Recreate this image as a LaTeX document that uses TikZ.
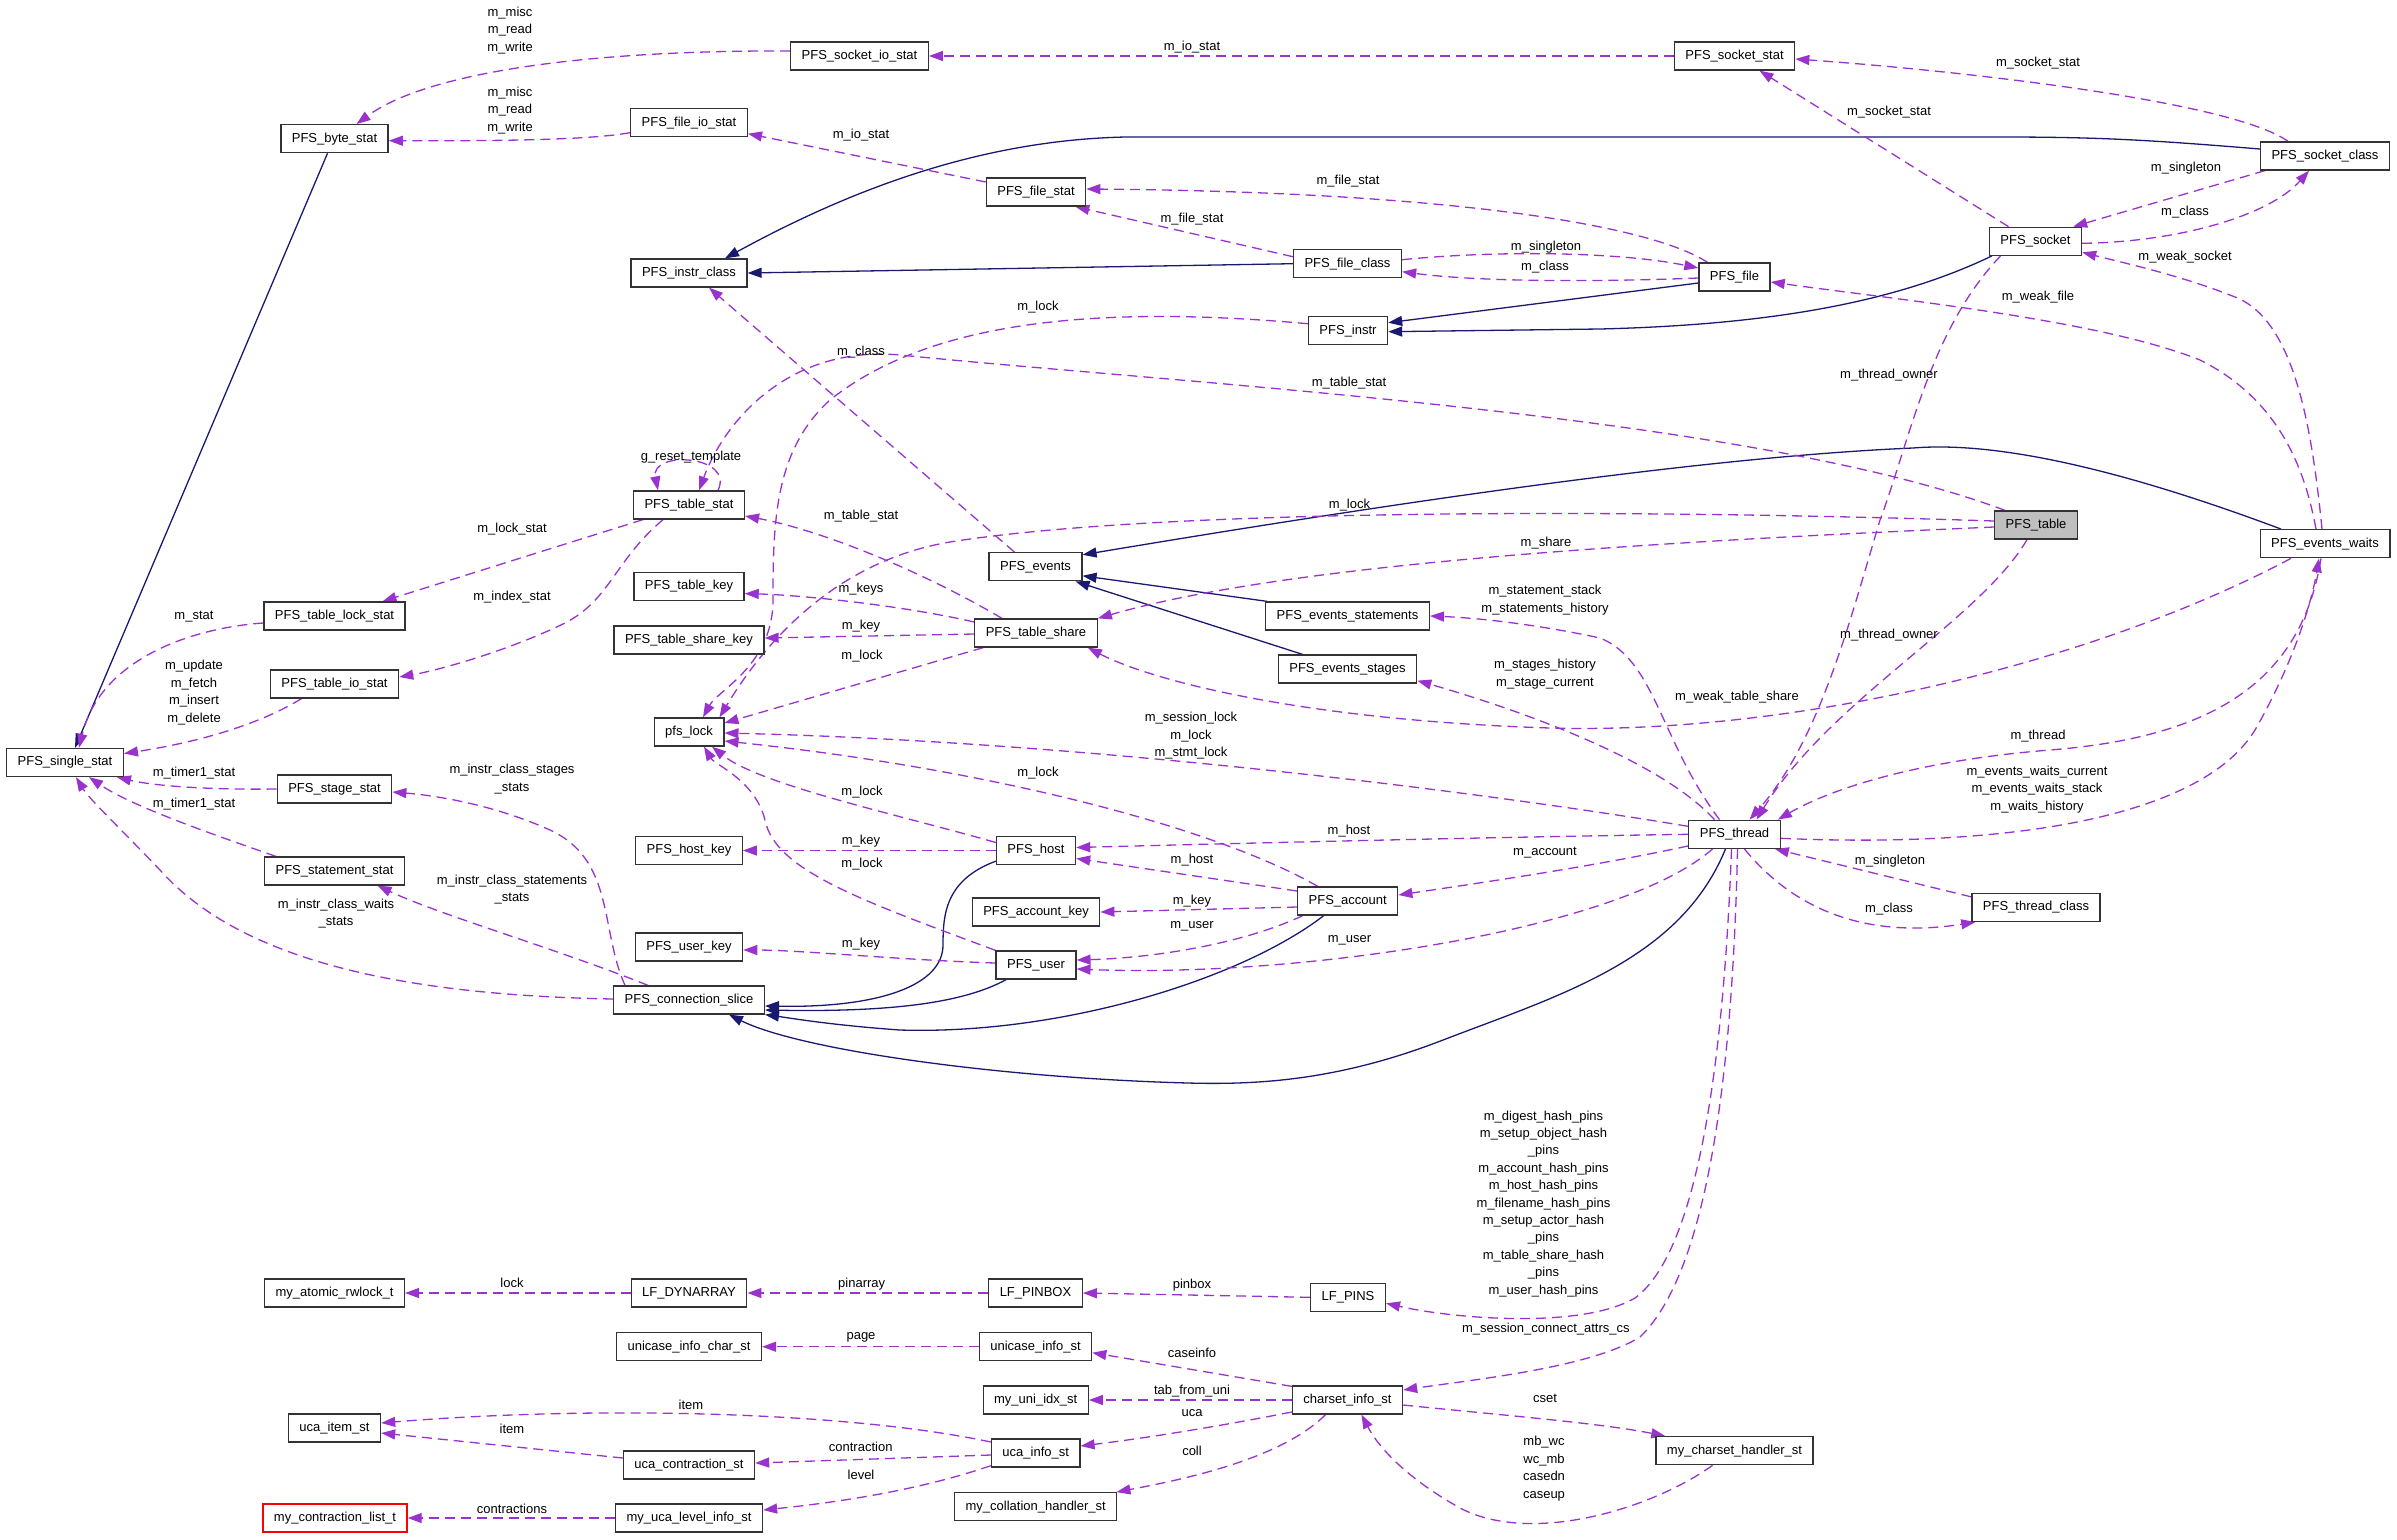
\documentclass[tikz,border=0pt]{standalone}
\usepackage{fontspec}
\setmainfont{Liberation Sans}
\usetikzlibrary{arrows.meta}
\definecolor{memc}{HTML}{9A32CD}
\definecolor{inhc}{HTML}{191970}
\newcommand{\nfont}{\fontsize{13}{17.4}\selectfont}
\pgfdeclarelayer{edges}
\pgfsetlayers{edges,main}
\tikzset{
  box/.style={draw=black!80, line width=1.3pt, fill=white, minimum height=28pt, inner xsep=11pt, inner ysep=0pt, font=\nfont},
  mem/.style={draw=memc, line width=1.3pt, dash pattern=on 10pt off 6pt, -{Triangle[length=14pt,width=10pt]}},
  inh/.style={draw=inhc, line width=1.3pt, -{Triangle[length=14pt,width=10pt]}},
  lab/.style={font=\nfont, inner sep=0pt, align=center, text=black}
}
\begin{document}
\begin{tikzpicture}[x=1pt,y=-1pt]
\useasboundingbox (0,0) rectangle (2397,1539);
% ---------- nodes ----------
\node[box] (bytestat) at (334.5,138.7) {PFS\_byte\_stat};
\node[box] (fileiostat) at (689,122.7) {PFS\_file\_io\_stat};
\node[box] (socketiostat) at (859.5,56) {PFS\_socket\_io\_stat};
\node[box] (socketstat) at (1734.5,56) {PFS\_socket\_stat};
\node[box] (filestat) at (1036,192) {PFS\_file\_stat};
\node[box] (socketclass) at (2325,156) {PFS\_socket\_class};
\node[box] (instrclass) at (689,273) {PFS\_instr\_class};
\node[box] (fileclass) at (1347.5,263.7) {PFS\_file\_class};
\node[box] (socket) at (2035.5,241.3) {PFS\_socket};
\node[box] (file) at (1734.5,277) {PFS\_file};
\node[box] (instr) at (1348,330.7) {PFS\_instr};
\node[box] (tablestat) at (689,505) {PFS\_table\_stat};
\node[box, fill=black!25] (table) at (2036,525) {PFS\_table};
\node[box] (eventswaits) at (2325,543.7) {PFS\_events\_waits};
\node[box] (events) at (1035.5,566.8) {PFS\_events};
\node[box] (tablekey) at (689,586.6) {PFS\_table\_key};
\node[box] (tablelockstat) at (334.5,616) {PFS\_table\_lock\_stat};
\node[box] (eventsstatements) at (1347.5,616) {PFS\_events\_statements};
\node[box] (tablesharekey) at (689,640) {PFS\_table\_share\_key};
\node[box] (tableshare) at (1036,633) {PFS\_table\_share};
\node[box] (eventsstages) at (1347.5,669) {PFS\_events\_stages};
\node[box] (tableiostat) at (334.5,684) {PFS\_table\_io\_stat};
\node[box] (pfslock) at (689,732) {pfs\_lock};
\node[box] (singlestat) at (65,762.5) {PFS\_single\_stat};
\node[box] (stagestat) at (334.5,789) {PFS\_stage\_stat};
\node[box] (thread) at (1734.5,834.3) {PFS\_thread};
\node[box] (hostkey) at (689,850.5) {PFS\_host\_key};
\node[box] (host) at (1036,850.5) {PFS\_host};
\node[box] (statementstat) at (334.5,871) {PFS\_statement\_stat};
\node[box] (account) at (1347.7,901) {PFS\_account};
\node[box] (accountkey) at (1036,912) {PFS\_account\_key};
\node[box] (threadclass) at (2036,907.5) {PFS\_thread\_class};
\node[box] (userkey) at (689,947) {PFS\_user\_key};
\node[box] (user) at (1036,965) {PFS\_user};
\node[box] (connslice) at (689,1000) {PFS\_connection\_slice};
\node[box] (atomicrwlock) at (334.5,1293) {my\_atomic\_rwlock\_t};
\node[box] (dynarray) at (689,1293) {LF\_DYNARRAY};
\node[box] (pinbox) at (1035.5,1293) {LF\_PINBOX};
\node[box] (pins) at (1348,1297.3) {LF\_PINS};
\node[box] (unicasecharst) at (689,1346.7) {unicase\_info\_char\_st};
\node[box] (unicaseinfo) at (1035.5,1346.7) {unicase\_info\_st};
\node[box] (uniidx) at (1035.7,1400) {my\_uni\_idx\_st};
\node[box] (charsetinfo) at (1347.5,1400) {charset\_info\_st};
\node[box] (ucaitem) at (334.5,1428) {uca\_item\_st};
\node[box] (ucainfo) at (1035.7,1453) {uca\_info\_st};
\node[box] (ucacontraction) at (689,1465) {uca\_contraction\_st};
\node[box] (charsethandler) at (1734.5,1450.7) {my\_charset\_handler\_st};
\node[box] (collationhandler) at (1035.7,1506.7) {my\_collation\_handler\_st};
\node[box, draw=red] (contractionlist) at (335,1518) {my\_contraction\_list\_t};
\node[box] (ucalevel) at (689,1518) {my\_uca\_level\_info\_st};
% ---------- edges ----------
\begin{pgfonlayer}{edges}
% inheritance
\draw[inh] ([xshift=-7pt]bytestat.south) -- ([xshift=10pt]singlestat.north);
\draw[inh] ([yshift=7pt]socketclass.west) .. controls (2150,140) and (2100,137) .. (2000,137) -- (1126,137) .. controls (980,140) and (850,190) .. ([xshift=36pt]instrclass.north);
\draw[inh] (fileclass.west) -- (instrclass.east);
\draw[inh] ([yshift=-6pt]file.west) -- ([yshift=8pt]instr.east);
\draw[inh] ([xshift=3pt]socket.south west) .. controls (1890,305) and (1760,325) .. (1600,329) -- ([yshift=-1pt]instr.east);
\draw[inh] ([xshift=-44pt]eventswaits.north) .. controls (2150,480) and (2010,440) .. (1913,448) .. controls (1750,455) and (1500,485) .. ([yshift=12pt]events.east);
\draw[inh] ([xshift=2pt]eventsstatements.north west) -- ([yshift=-9pt]events.east);
\draw[inh] ([xshift=-45pt]eventsstages.north) -- ([xshift=-7pt]events.south east);
\draw[inh] ([yshift=4pt]host.south west) .. controls (945,880) and (943,915) .. (943,945) .. controls (943,985) and (880,1008) .. ([yshift=-6pt]connslice.east);
\draw[inh] ([xshift=-30pt]user.south) .. controls (960,1005) and (880,1012) .. ([yshift=-10pt]connslice.east);
\draw[inh] ([xshift=-24pt]account.south) .. controls (1240,980) and (1060,1035) .. (900,1030) .. controls (830,1025) and (790,1018) .. (connslice.south east);
\draw[inh] ([xshift=-9pt]thread.south) .. controls (1680,960) and (1560,995) .. (1443,1040) .. controls (1340,1080) and (1260,1085) .. (1188,1083) .. controls (1000,1078) and (800,1050) .. ([xshift=40pt]connslice.south);
% members
\draw[mem] ([yshift=5pt]socketiostat.west) .. controls (600,50) and (430,70) .. ([xshift=22pt]bytestat.north);
\draw[mem] ([yshift=-10pt]fileiostat.west) .. controls (590,140) and (500,141) .. ([yshift=-2pt]bytestat.east);
\draw[mem] (socketstat.west) -- (socketiostat.east);
\draw[mem] ([yshift=10pt]filestat.west) -- ([yshift=-11pt]fileiostat.east);
\draw[mem] ([xshift=-37pt]socketclass.north) .. controls (2230,100) and (1950,70) .. ([yshift=-3pt]socketstat.east);
\draw[mem] ([xshift=-27pt]socket.north) -- ([xshift=25pt]socketstat.south);
\draw[mem] ([xshift=5pt]socketclass.south west) -- ([xshift=-9pt]socket.north east);
\draw[mem] ([yshift=-2pt]socket.east) .. controls (2180,242) and (2270,215) .. ([xshift=-16pt]socketclass.south);
\draw[mem] ([xshift=-3pt]eventswaits.north) .. controls (2312,430) and (2295,320) .. (2235,297) .. controls (2180,275) and (2120,262) .. ([yshift=-11pt]socket.east);
\draw[mem] ([xshift=-9pt]eventswaits.north) .. controls (2305,470) and (2280,400) .. (2200,360) .. controls (2100,320) and (1900,300) .. ([yshift=-5pt]file.east);
\draw[mem] ([xshift=-27pt]file.north) .. controls (1650,225) and (1450,192) .. ([yshift=3pt]filestat.east);
\draw[mem] ([yshift=7pt]fileclass.west) -- ([xshift=-11pt]filestat.south east);
\draw[mem] ([yshift=4pt]fileclass.east) .. controls (1500,250) and (1620,252) .. ([yshift=9pt]file.west);
\draw[mem] ([yshift=-1pt]file.west) .. controls (1600,282) and (1480,282) .. ([yshift=-8pt]fileclass.east);
\draw[mem] ([yshift=7pt]instr.west) .. controls (1100,305) and (930,320) .. (830,400) .. controls (775,450) and (773,520) .. (773,600) .. controls (773,665) and (718,690) .. ([xshift=14pt]pfslock.north);
\draw[mem] ([xshift=-31pt]table.north) .. controls (1750,415) and (1200,385) .. (900,355) .. controls (790,345) and (725,420) .. ([xshift=10pt]tablestat.north);
\draw[mem] ([xshift=-21pt]events.north) -- ([xshift=20pt]instrclass.south);
\draw[mem] ([yshift=4pt]table.west) .. controls (1600,508) and (1150,510) .. (950,542) .. controls (830,562) and (760,650) .. ([xshift=-5pt]pfslock.north east);
\draw[mem] ([yshift=-2pt]table.west) .. controls (1700,540) and (1300,560) .. (tableshare.north east);
\draw[mem] ([xshift=-34pt]tableshare.north) .. controls (920,570) and (820,530) .. ([yshift=-11pt]tablestat.east);
\draw[mem] ([yshift=11pt]tableshare.west) .. controls (900,605) and (800,595) .. ([yshift=-7pt]tablekey.east);
\draw[mem] ([yshift=-1pt]tableshare.west) -- ([yshift=2pt]tablesharekey.east);
\draw[mem] ([xshift=9pt]tableshare.south west) -- ([yshift=9pt]pfslock.east);
\draw[mem] ([yshift=8pt]thread.west) .. controls (1500,795) and (1100,742) .. ([yshift=-1pt]pfslock.east);
\draw[mem] ([xshift=-30pt]account.north) .. controls (1220,830) and (1000,770) .. ([yshift=-9pt]pfslock.east);
\draw[mem] ([yshift=8pt]host.west) .. controls (900,815) and (760,785) .. ([xshift=23pt]pfslock.south);
\draw[mem] (user.north west) .. controls (860,900) and (775,870) .. (765,820) .. controls (755,780) and (715,765) .. ([xshift=15pt]pfslock.south);
\draw[mem] (thread.west) .. controls (1500,837) and (1250,843) .. ([yshift=3pt]host.east);
\draw[mem] ([yshift=3pt]thread.south west) .. controls (1600,865) and (1500,880) .. ([yshift=6pt]account.east);
\draw[mem] ([xshift=-22pt]thread.south) .. controls (1620,930) and (1300,978) .. ([yshift=-4pt]user.east);
\draw[mem] ([xshift=10pt]thread.south) .. controls (1790,905) and (1860,940) .. ([xshift=4pt]threadclass.south west);
\draw[mem] ([yshift=-4pt]threadclass.north west) -- ([xshift=-6pt]thread.south east);
\draw[mem] ([xshift=-4pt]eventswaits.south) .. controls (2300,690) and (2200,738) .. (2050,750) .. controls (1900,762) and (1820,795) .. ([xshift=-3pt]thread.north east);
\draw[mem] ([yshift=-4pt]thread.east) .. controls (2000,848) and (2200,820) .. (2255,730) .. controls (2295,660) and (2312,600) .. ([xshift=-6pt]eventswaits.south);
\draw[mem] ([xshift=-35pt]socket.south) .. controls (1930,330) and (1910,440) .. (1880,520) .. controls (1850,620) and (1820,740) .. ([xshift=15pt]thread.north);
\draw[mem] ([xshift=-9pt]table.south) .. controls (1980,620) and (1830,700) .. ([xshift=22pt]thread.north);
\draw[mem] ([xshift=-34pt]eventswaits.south) .. controls (2100,660) and (1800,735) .. (1550,728) .. controls (1300,720) and (1150,680) .. ([xshift=-10pt]tableshare.south east);
\draw[mem] ([xshift=-15pt]thread.north) .. controls (1660,740) and (1655,660) .. (1600,638) .. controls (1540,625) and (1480,618) .. (eventsstatements.east);
\draw[mem] ([xshift=-20pt]thread.north) .. controls (1660,760) and (1520,710) .. ([yshift=3pt]eventsstages.south east);
\draw[mem] ([yshift=10pt]account.west) -- ([yshift=-8pt]host.east);
\draw[mem] ([yshift=-6pt]account.west) -- (accountkey.east);
\draw[mem] ([xshift=-45pt]account.south) .. controls (1240,945) and (1150,958) .. ([yshift=5pt]user.east);
\draw[mem] (host.west) -- (hostkey.east);
\draw[mem] ([yshift=2pt]user.west) .. controls (900,960) and (800,950) .. ([yshift=-3pt]userkey.east);
\draw[mem] ([xshift=-64pt]connslice.north) .. controls (600,930) and (615,860) .. (550,830) .. controls (490,803) and (430,795) .. ([yshift=-3pt]stagestat.east);
\draw[mem] ([xshift=-41pt]connslice.north) .. controls (560,950) and (440,915) .. ([xshift=43pt]statementstat.south);
\draw[mem] ([yshift=1pt]connslice.west) .. controls (400,995) and (240,960) .. (160,870) .. controls (120,828) and (90,800) .. ([xshift=11pt]singlestat.south);
\draw[mem] ([yshift=-7pt]tablelockstat.west) .. controls (190,628) and (100,660) .. ([xshift=14pt]singlestat.north);
\draw[mem] ([xshift=-33pt]tableiostat.south) .. controls (250,730) and (180,745) .. ([yshift=9pt]singlestat.east);
\draw[mem] (stagestat.west) .. controls (200,790) and (150,785) .. ([xshift=-7pt]singlestat.south east);
\draw[mem] ([xshift=12pt]statementstat.north west) .. controls (200,830) and (130,805) .. ([xshift=24pt]singlestat.south);
\draw[mem] ([xshift=10pt]tablestat.south west) -- ([xshift=48pt]tablelockstat.north);
\draw[mem] ([xshift=-26pt]tablestat.south) .. controls (615,560) and (610,600) .. (565,623) .. controls (510,650) and (440,670) .. ([yshift=7pt]tableiostat.east);
\draw[mem] ([xshift=29pt]tablestat.north) .. controls (735,455) and (650,450) .. ([xshift=-31pt]tablestat.north);
\draw[mem] (dynarray.west) -- (atomicrwlock.east);
\draw[mem] (pinbox.west) -- (dynarray.east);
\draw[mem] (pins.west) -- (pinbox.east);
\draw[mem] ([xshift=-3pt]thread.south) .. controls (1724,1050) and (1700,1250) .. (1635,1298) .. controls (1580,1330) and (1450,1318) .. ([yshift=-6pt]pins.east);
\draw[mem] ([xshift=3pt]thread.south) .. controls (1733,1060) and (1710,1270) .. (1640,1337) .. controls (1590,1368) and (1470,1380) .. ([yshift=10pt]charsetinfo.east);
\draw[mem] ([yshift=-1pt]charsetinfo.north west) -- ([yshift=-6pt]unicaseinfo.east);
\draw[mem] (unicaseinfo.west) -- (unicasecharst.east);
\draw[mem] (charsetinfo.west) -- (uniidx.east);
\draw[mem] ([yshift=-12pt]charsetinfo.west) .. controls (1200,1430) and (1130,1440) .. ([yshift=7pt]ucainfo.east);
\draw[mem] ([xshift=-22pt]charsetinfo.south) .. controls (1280,1460) and (1180,1480) .. ([xshift=-1pt]collationhandler.north east);
\draw[mem] ([yshift=-5pt]charsetinfo.east) .. controls (1500,1415) and (1600,1423) .. ([xshift=10pt]charsethandler.north west);
\draw[mem] ([xshift=-22pt]charsethandler.south) .. controls (1650,1510) and (1530,1545) .. (1460,1508) .. controls (1410,1480) and (1380,1450) .. ([xshift=14pt]charsetinfo.south);
\draw[mem] ([yshift=11pt]ucainfo.west) .. controls (850,1412) and (600,1405) .. ([yshift=5pt]ucaitem.east);
\draw[mem] ([yshift=7pt]ucacontraction.west) -- ([yshift=-5pt]ucaitem.east);
\draw[mem] ([yshift=-2pt]ucainfo.west) -- ([yshift=2pt]ucacontraction.east);
\draw[mem] ([yshift=2pt]ucainfo.south west) .. controls (920,1490) and (840,1502) .. ([yshift=8pt]ucalevel.east);
\draw[mem] (ucalevel.west) -- (contractionlist.east);
\end{pgfonlayer}
% ---------- labels ----------
\node[lab] (l1) at (510,30.2) {m\_misc\\m\_read\\m\_write};
\node[lab] (l2) at (510,110.2) {m\_misc\\m\_read\\m\_write};
\node[lab] (l3) at (1192,46.7) {m\_io\_stat};
\node[lab] (l4) at (861,135) {m\_io\_stat};
\node[lab] (l5) at (2038,62.7) {m\_socket\_stat};
\node[lab] (l6) at (1889,111.7) {m\_socket\_stat};
\node[lab] (l7) at (1348,180.7) {m\_file\_stat};
\node[lab] (l8) at (1192,218.7) {m\_file\_stat};
\node[lab] (l9) at (2186,167.7) {m\_singleton};
\node[lab] (l10) at (2185,211.7) {m\_class};
\node[lab] (l11) at (1546,246.7) {m\_singleton};
\node[lab] (l12) at (1545,266.7) {m\_class};
\node[lab] (l13) at (2185,256.7) {m\_weak\_socket};
\node[lab] (l14) at (2038,296.7) {m\_weak\_file};
\node[lab] (l15) at (1038,306.7) {m\_lock};
\node[lab] (l16) at (861,351.7) {m\_class};
\node[lab] (l17) at (1349,382.7) {m\_table\_stat};
\node[lab] (l18) at (1889,375) {m\_thread\_owner};
\node[lab] (l19) at (691,456.7) {g\_reset\_template};
\node[lab] (l20) at (1349.5,505) {m\_lock};
\node[lab] (l21) at (861,516) {m\_table\_stat};
\node[lab] (l22) at (1546,543) {m\_share};
\node[lab] (l23) at (512,528.6) {m\_lock\_stat};
\node[lab] (l24) at (861,589) {m\_keys};
\node[lab] (l25) at (1545,600.2) {m\_statement\_stack\\m\_statements\_history};
\node[lab] (l26) at (512,596.8) {m\_index\_stat};
\node[lab] (l27) at (194,616.8) {m\_stat};
\node[lab] (l28) at (861,626.4) {m\_key};
\node[lab] (l29) at (1889,635.4) {m\_thread\_owner};
\node[lab] (l30) at (862,655.7) {m\_lock};
\node[lab] (l31) at (1545,674) {m\_stages\_history\\m\_stage\_current};
\node[lab] (l32) at (194,692.5) {m\_update\\m\_fetch\\m\_insert\\m\_delete};
\node[lab] (l33) at (1737,696.8) {m\_weak\_table\_share};
\node[lab] (l34) at (1191,735.7) {m\_session\_lock\\m\_lock\\m\_stmt\_lock};
\node[lab] (l35) at (2038,736.4) {m\_thread};
\node[lab] (l36) at (194,772.9) {m\_timer1\_stat};
\node[lab] (l37) at (512,779) {m\_instr\_class\_stages\\\_stats};
\node[lab] (l38) at (1038,772.9) {m\_lock};
\node[lab] (l39) at (2037,789.3) {m\_events\_waits\_current\\m\_events\_waits\_stack\\m\_waits\_history};
\node[lab] (l40) at (862,791.8) {m\_lock};
\node[lab] (l41) at (194,803.6) {m\_timer1\_stat};
\node[lab] (l42) at (1349,830.7) {m\_host};
\node[lab] (l43) at (861,840.7) {m\_key};
\node[lab] (l44) at (1545,852.9) {m\_account};
\node[lab] (l45) at (1192,859.6) {m\_host};
\node[lab] (l46) at (1890,860.7) {m\_singleton};
\node[lab] (l47) at (862,863.6) {m\_lock};
\node[lab] (l48) at (512,889.6) {m\_instr\_class\_statements\\\_stats};
\node[lab] (l49) at (1192,900.7) {m\_key};
\node[lab] (l50) at (336,913.7) {m\_instr\_class\_waits\\\_stats};
\node[lab] (l51) at (1889,908.6) {m\_class};
\node[lab] (l52) at (1192,926.4) {m\_user};
\node[lab] (l53) at (1349.5,940.7) {m\_user};
\node[lab] (l54) at (861,944) {m\_key};
\node[lab] (l55) at (1543.5,1203.7) {m\_digest\_hash\_pins\\m\_setup\_object\_hash\\\_pins\\m\_account\_hash\_pins\\m\_host\_hash\_pins\\m\_filename\_hash\_pins\\m\_setup\_actor\_hash\\\_pins\\m\_table\_share\_hash\\\_pins\\m\_user\_hash\_pins};
\node[lab] (l56) at (512,1283.3) {lock};
\node[lab] (l57) at (861.7,1284) {pinarray};
\node[lab] (l58) at (1192,1285) {pinbox};
\node[lab] (l59) at (1545.8,1328.7) {m\_session\_connect\_attrs\_cs};
\node[lab] (l60) at (861,1337) {page};
\node[lab] (l61) at (1192,1352.7) {caseinfo};
\node[lab] (l62) at (1192,1390.7) {tab\_from\_uni};
\node[lab] (l63) at (1545,1398.7) {cset};
\node[lab] (l64) at (691,1404.7) {item};
\node[lab] (l65) at (1192,1412.7) {uca};
\node[lab] (l66) at (512,1428.7) {item};
\node[lab] (l67) at (1544,1468.7) {mb\_wc\\wc\_mb\\casedn\\caseup};
\node[lab] (l68) at (860.7,1446.7) {contraction};
\node[lab] (l69) at (1192,1450.7) {coll};
\node[lab] (l70) at (861,1474.7) {level};
\node[lab] (l71) at (512,1508.7) {contractions};
\end{tikzpicture}
\end{document}
